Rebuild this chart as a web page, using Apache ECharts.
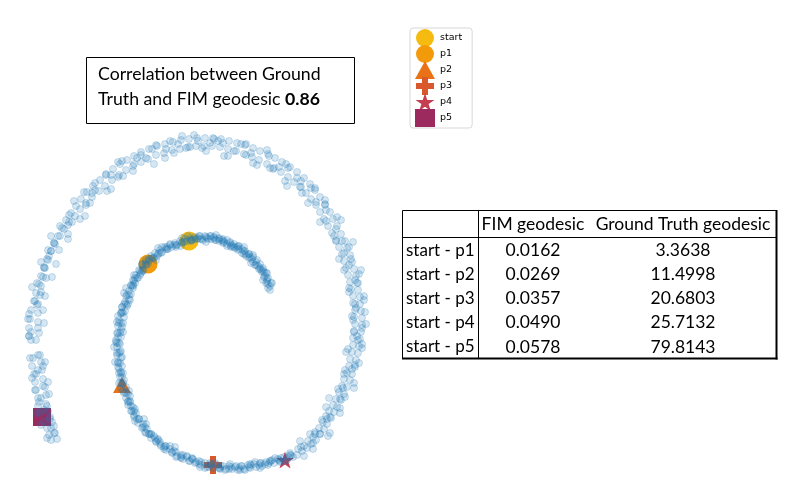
<!DOCTYPE html>
<html>
<head>
<meta charset="utf-8">
<script src="https://cdn.jsdelivr.net/npm/echarts@6/dist/echarts.min.js"></script>
<style>
  html, body { margin: 0; padding: 0; background: #fff; }
  #chart { width: 785px; height: 492px; }
</style>
</head>
<body>
<div id="chart"></div>
<script>
// spiral samples (pixel units, y down)
var innerArm = [
  [270,286],[268,288],[271,283],[267,281],[268,278],[264,277],[266,273],[262,272],[263,268],[259,269],
  [260,264],[256,265],[257,260],[253,262],[253,257],[249,258],[249,254],[246,256],[245,251],[242,253],
  [242,249],[238,250],[238,246],[235,248],[234,244],[231,246],[230,242],[227,244],[227,240],[223,243],
  [223,239],[219,241],[219,238],[215,240],[214,237],[211,239],[210,236],[207,238],[205,236],[202,239],
  [200,236],[197,239],[195,237],[192,240],[190,238],[187,241],[185,239],[182,243],[180,241],[177,245],
  [175,243],[172,247],[170,245],[167,249],[165,247],[162,252],[160,250],[158,254],[155,253],[153,258],
  [151,256],[149,261],[146,260],[146,265],[142,265],[143,269],[139,270],[141,273],[136,275],[138,278],
  [133,280],[135,283],[131,285],[133,288],[129,291],[131,294],[126,296],[129,299],[125,302],[127,306],
  [122,307],[125,311],[121,313],[124,317],[119,320],[123,323],[118,326],[121,330],[117,333],[121,337],
  [116,340],[120,344],[117,347],[121,351],[117,355],[121,358],[118,362],[122,366],[119,369],[123,373],
  [120,377],[124,380],[122,384],[126,387],[123,391],[128,394],[126,398],[130,401],[128,405],[133,407],
  [131,411],[136,413],[134,417],[139,419],[138,423],[143,424],[142,428],[147,429],[146,433],[151,434],
  [151,438],[155,438],[156,442],[160,442],[161,446],[165,446],[166,450],[170,449],[172,453],[176,452],
  [177,456],[181,455],[183,459],[187,457],[189,461],[193,459],[195,463],[199,461],[201,465],[205,463],
  [207,467],[211,464],[213,468],[217,465],[220,469],[223,466],[226,469],[229,466],[232,469],[236,466],
  [238,470],[242,466],[244,469],[248,465],[250,468],[254,464],[256,467],[260,463],[262,466],[266,462],
  [268,465],[272,460],[274,463],[278,459],[280,462],[284,457],[287,460],[290,455],[293,457]
];
var innerArmB = [
  [272,283],[263,280],[263,270],[255,265],[253,255],[244,254],[239,246],[231,247],[223,241],[216,235],
  [206,242],[199,236],[191,241],[182,238],[176,247],[167,247],[158,248],[156,260],[146,262],[143,271],
  [134,275],[133,285],[124,293],[128,304],[122,312],[117,322],[123,332],[116,342],[120,352],[115,362],
  [121,372],[119,383],[129,391],[128,401],[135,409],[135,421],[146,424],[149,434],[158,439],[164,449],
  [175,447],[181,458],[192,458],[200,467],[210,463],[220,468],[230,464],[240,470],[250,464],[260,468],
  [270,461],[280,461],[290,453]
];
var innerArmC = [
  [266,283],[267,273],[260,268],[251,263],[249,254],[244,247],[234,247],[227,246],[219,239],[211,236],
  [203,240],[195,239],[188,236],[181,246],[170,244],[162,247],[157,256],[149,259],[142,264],[140,275],
  [134,281],[126,288],[130,300],[122,307],[118,316],[122,327],[118,337],[114,347],[122,357],[118,367],
  [122,377],[121,388],[130,396],[131,406],[134,415],[144,419],[145,432],[154,436],[160,444],[170,446],
  [176,457],[187,456],[196,462],[205,468],[215,463],[225,470],[235,467],[245,470],[255,462],[265,464],
  [275,458],[285,461]
];
var innerArmD = [
  [268,284],[265,276],[261,270],[256,262],[250,257],[244,251],[237,247],[230,243],[222,240],[214,238],
  [206,237],[198,238],[190,240],[182,242],[174,245],[166,249],[159,253],[152,258],[146,264],[140,271],
  [135,278],[131,286],[127,295],[124,304],[121,313],[119,323],[118,333],[117,343],[117,353],[118,363],
  [119,373],[121,383],[124,393],[128,402],[132,411],[137,419],[143,427],[149,434],[156,441],[164,447],
  [172,452],[181,457],[190,461],[199,464],[209,467],[219,468],[229,469],[239,468],[249,467],[259,465],
  [269,463],[279,460],[289,457]
];
var innerArmE = [
  [270,290],[267,279],[264,272],[258,266],[252,259],[246,254],[239,249],[232,245],[224,242],[216,240],
  [208,239],[200,239],[192,240],[184,242],[176,245],[168,249],[161,253],[154,258],[148,264],[142,271],
  [137,278],[133,286],[129,295],[126,304],[123,313],[121,323],[120,333],[119,343],[119,353],[120,363],
  [121,373],[123,383],[126,393],[130,402],[134,411],[139,419],[145,427],[151,434],[158,440],[166,446],
  [174,451],[183,455],[192,459],[201,462],[211,465],[221,466],[231,467],[241,466],[251,465],[261,463],
  [271,461],[281,458],[291,455]
];
var outerArm = [
  [297,455],[298,449],[302,451],[304,446],[307,448],[308,441],[311,444],[313,437],[316,440],[315,432],
  [320,434],[319,428],[324,429],[323,422],[327,424],[326,416],[331,418],[329,411],[334,412],[333,405],
  [337,407],[336,399],[341,400],[339,392],[344,394],[342,386],[347,387],[344,379],[350,380],[347,373],
  [352,374],[349,366],[355,367],[350,359],[356,360],[352,352],[358,353],[353,345],[359,346],[353,338],
  [360,339],[354,331],[361,332],[355,324],[362,325],[354,317],[362,318],[355,310],[361,311],[353,303],
  [360,304],[353,296],[360,297],[351,289],[358,290],[350,282],[357,283],[348,275],[356,276],[346,268],
  [354,269],[344,261],[352,262],[342,254],[350,255],[339,247],[347,248],[336,240],[345,241],[332,233],
  [341,234],[328,226],[337,226],[324,219],[333,219],[320,212],[330,212],[316,205],[325,204],[311,199],
  [320,197],[306,193],[315,190],[300,187],[310,184],[294,182],[304,178],[288,177],[297,172],[281,172],
  [290,167],[274,168],[282,162],[267,164],[275,158],[259,160],[268,154],[252,157],[260,151],[244,154],
  [253,148],[236,151],[245,145],[228,149],[237,143],[220,147],[229,141],[212,146],[221,139],[204,146],
  [213,138],[196,146],[205,138],[188,147],[197,138],[180,149],[189,139],[172,150],[181,140],[164,153],
  [173,142],[156,155],[165,144],[148,159],[157,146],[141,162],[149,149],[133,166],[141,152],[126,170],
  [134,156],[119,175],[127,160],[112,180],[120,164],[105,186],[113,169],[99,191],[106,174],[92,197],
  [100,180],[86,203],[93,186],[80,209],[87,192],[75,216],[81,199],[69,222],[76,206],[64,229],
  [71,213],[60,236],[66,220],[55,244],[62,228],[51,251],[58,236],[47,259],[54,243],[44,267],
  [51,251],[41,276],[48,260],[39,284],[45,268],[36,293],[43,277],[34,301],[41,286],[31,310],
  [40,295],[30,319],[38,304],[29,328],[38,313],[29,336],[38,322],[31,340],[39,333],[33,358],
  [40,355],[32,366],[41,362],[34,374],[42,370],[35,382],[43,379],[36,390],[45,387],[38,398],
  [46,395],[38,406],[46,404],[40,413],[48,411],[44,421],[50,419],[47,428],[54,426],[49,435],
  [55,433],[51,440],[57,439]
];
var outerArmB = [
  [304,456],[300,441],[313,443],[315,434],[328,436],[322,420],[330,417],[340,413],[329,398],[345,397],
  [343,388],[354,383],[345,370],[355,365],[346,352],[362,348],[358,340],[354,332],[366,324],[352,316],
  [356,308],[364,300],[349,292],[358,283],[359,274],[344,270],[351,259],[344,253],[353,242],[336,241],
  [336,229],[337,217],[320,222],[325,205],[316,202],[315,188],[302,193],[301,181],[287,186],[288,168],
  [279,167],[270,168],[267,150],[253,163],[246,155],[241,144],[228,156],[223,143],[214,139],[206,151],
  [198,141],[190,147],[182,136],[174,153],[166,149],[156,145],[154,164],[141,155],[134,164],[122,161],
  [123,176],[111,175],[111,189],[95,183],[92,193],[90,203],[74,201],[80,219],[72,222],[60,226],
  [68,239],[54,243],[48,250],[56,264],[44,268],[46,278],[32,287],[45,296],[37,305],[29,314],
  [44,323],[31,332],[36,340],[30,358],[43,366],[36,374],[48,382],[35,390],[41,398],[47,406],
  [37,413],[52,422],[51,428],[47,438]
];
var outerArmC = [
  [301,447],[313,449],[310,434],[320,434],[330,433],[327,419],[326,407],[340,408],[340,399],[338,389],
  [354,388],[344,374],[352,369],[359,363],[348,349],[362,344],[357,336],[362,328],[353,320],[365,312],
  [355,304],[364,296],[349,288],[355,280],[361,270],[349,265],[339,259],[349,247],[342,241],[334,236],
  [341,220],[326,221],[326,210],[325,200],[308,203],[311,188],[301,187],[297,178],[285,181],[286,164],
  [273,169],[269,156],[257,165],[251,153],[246,144],[234,151],[224,156],[218,141],[210,143],[202,148],
  [194,135],[186,148],[178,144],[170,141],[165,158],[152,149],[146,158],[137,158],[133,171],[118,162],
  [118,177],[106,175],[107,191],[95,190],[84,192],[86,205],[85,216],[69,215],[68,225],[68,234],
  [51,236],[59,250],[49,256],[41,262],[52,277],[37,283],[41,292],[35,301],[43,310],[28,319],
  [38,328],[29,336],[38,355],[45,362],[38,370],[32,378],[43,386],[49,394],[39,402],[44,410],
  [50,417],[41,425],[54,433]
];

// highlighted points
var markNames = ['start', 'p1', 'p2', 'p3', 'p4', 'p5'];
var markPoints = [[189,241],[148,264],[122,385],[213,465],[285,460],[42,417]];
var markColors = ['#f6bb10', '#f39a0b', '#ea7216', '#d9592c', '#c63f50', '#9c2a5f'];

// table
var tableHeaders = ['FIM geodesic', 'Ground Truth geodesic'];
var rowLabels = ['start - p1', 'start - p2', 'start - p3', 'start - p4', 'start - p5'];
var fimGeodesic = [0.0162, 0.0269, 0.0357, 0.0490, 0.0578];
var gtGeodesic = [3.3638, 11.4998, 20.6803, 25.7132, 79.8143];
var correlation = '0.86';

var plusPath = 'path://M6,0H12V6H18V12H12V18H6V12H0V6H6Z';
var starPath = 'path://M10,0L12.23,6.93L19.51,6.91L13.61,11.17L15.88,18.09L10,13.8L4.12,18.09L6.39,11.17L0.49,6.91L7.77,6.93Z';
var markSymbols = ['circle', 'circle', 'triangle', plusPath, starPath, 'rect'];
var markSizes = [19, 19, [18, 16], 18, [18, 17], 18];

var chart = echarts.init(document.getElementById('chart'));

var series = [];
markNames.forEach(function (n, i) {
  series.push({
    name: n,
    type: 'scatter',
    data: [markPoints[i]],
    symbol: markSymbols[i],
    symbolSize: markSizes[i],
    itemStyle: { color: markColors[i], opacity: 1 },
    z: 2,
    silent: true
  });
});
series.push({
  name: 'roll',
  type: 'scatter',
  data: innerArm.concat(innerArmB, innerArmC, innerArmD, innerArmE, outerArm, outerArmB, outerArmC),
  symbolSize: 7,
  itemStyle: {
    color: 'rgba(31,119,180,0.22)',
    borderColor: 'rgba(31,119,180,0.36)',
    borderWidth: 0.8
  },
  z: 3,
  silent: true
});

// table graphics
var tX = 402, tY = 210, tW = 374, tH = 148, colDiv = 478, headH = 27, rowH = 24.2;
var fimX = 533, gtX = 683;
var tf = '17.5px Lato';
var graphics = [
  { type: 'rect', shape: { x: 86.5, y: 57.5, width: 268, height: 66 },
    style: { fill: '#fff', stroke: '#000', lineWidth: 1 } },
  { type: 'text', x: 98, y: 62,
    style: { text: 'Correlation between Ground\nTruth and FIM geodesic {b|' + correlation + '}',
      font: '17.7px Lato', fill: '#000', lineHeight: 25,
      rich: { b: { font: 'bold 17.7px Lato', fill: '#000' } } } },
  { type: 'rect', shape: { x: tX + 0.5, y: tY + 0.5, width: tW, height: tH },
    style: { fill: '#fff', stroke: '#000', lineWidth: 1 } },
  { type: 'line', shape: { x1: tX + tW + 0.5, y1: tY, x2: tX + tW + 0.5, y2: tY + tH + 1.5 },
    style: { stroke: '#000', lineWidth: 2 } },
  { type: 'line', shape: { x1: tX, y1: tY + tH + 0.5, x2: tX + tW + 1.5, y2: tY + tH + 0.5 },
    style: { stroke: '#000', lineWidth: 2 } },
  { type: 'line', shape: { x1: colDiv + 0.5, y1: tY, x2: colDiv + 0.5, y2: tY + tH },
    style: { stroke: '#000', lineWidth: 1 } },
  { type: 'line', shape: { x1: tX, y1: tY + headH + 0.5, x2: tX + tW, y2: tY + headH + 0.5 },
    style: { stroke: '#000', lineWidth: 1 } },
  { type: 'text', x: fimX, y: tY + headH / 2 + 1,
    style: { text: tableHeaders[0], font: tf, fill: '#000', align: 'center', verticalAlign: 'middle' } },
  { type: 'text', x: gtX, y: tY + headH / 2 + 1,
    style: { text: tableHeaders[1], font: tf, fill: '#000', align: 'center', verticalAlign: 'middle' } }
];
rowLabels.forEach(function (lab, i) {
  var cy = tY + headH + rowH * i + rowH / 2 + 1;
  graphics.push({ type: 'text', x: 406, y: cy,
    style: { text: lab, font: '17px Lato', fill: '#000', verticalAlign: 'middle' } });
  graphics.push({ type: 'text', x: fimX, y: cy,
    style: { text: fimGeodesic[i].toFixed(4), font: tf, fill: '#000', align: 'center', verticalAlign: 'middle' } });
  graphics.push({ type: 'text', x: gtX, y: cy,
    style: { text: gtGeodesic[i].toFixed(4), font: tf, fill: '#000', align: 'center', verticalAlign: 'middle' } });
});

var option = {
  animation: false,
  backgroundColor: '#fff',
  grid: { left: 0, right: 0, top: 0, bottom: 0 },
  xAxis: { type: 'value', min: 0, max: 785, show: false },
  yAxis: { type: 'value', min: 0, max: 492, inverse: true, show: false },
  legend: {
    data: markNames,
    orient: 'vertical',
    left: 410,
    top: 28,
    padding: [1, 10, 1, 5],
    itemWidth: 20,
    itemHeight: 18,
    itemGap: -2,
    borderColor: '#d8d8d8',
    borderWidth: 1,
    borderRadius: 3,
    textStyle: { fontFamily: 'DejaVu Sans', fontSize: 9.5, color: '#000' }
  },
  graphic: graphics,
  series: series
};
chart.setOption(option);
</script>
</body>
</html>
